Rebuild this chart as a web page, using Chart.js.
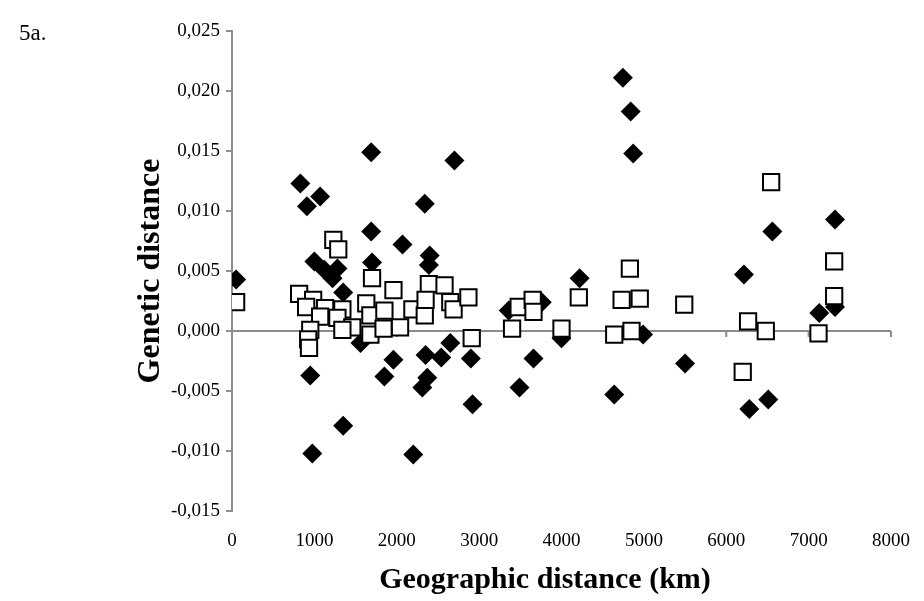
<!DOCTYPE html>
<html lang="en">
<head>
  <meta charset="UTF-8">
  <title>Genetic vs geographic distance</title>
  <script src="https://cdn.jsdelivr.net/npm/chart.js"></script>
  <style>
    body { margin: 0; background: #fff; }
    #wrap { position: relative; width: 924px; height: 601px; }
    #panel { position: absolute; left: 19px; top: 20px; font: 23px "Liberation Serif", serif; color: #000; }
    #xTitle { position: absolute; left: 345px; width: 400px; top: 560px; text-align: center;
      font: bold 30px "Liberation Serif", serif; color: #000; line-height: 36px; }
  </style>
</head>
<body>
  <div id="wrap">
    <div id="panel">5a.</div>
    <canvas id="distChart" width="924" height="601"></canvas>
    <div id="xTitle">Geographic distance (km)</div>
  </div>

  <script>
    // filled diamonds
    const diamondX = [50, 830, 910, 1070, 1000, 1120, 1280, 1220, 1350, 1690, 1690, 1700, 2070, 2340, 2400, 2390, 2700,
      1560, 1960, 950, 1850, 1350, 975, 2200, 2310, 2370, 2350, 2540, 2650, 2900, 2920, 3360, 3490, 3660, 3760,
      4000, 4220, 4745, 4840, 4870, 4990, 4640, 5500, 6215, 6560, 6280, 6510, 7320, 7320, 7130];
    const diamondY = [0.0043, 0.0123, 0.0104, 0.0112, 0.0058, 0.0051, 0.0052, 0.0044, 0.0032, 0.0149, 0.0083, 0.0057, 0.0072, 0.0106, 0.0063, 0.0055, 0.0142,
      -0.0010, -0.0024, -0.0037, -0.0038, -0.0079, -0.0102, -0.0103, -0.0047, -0.0039, -0.0020, -0.0022, -0.0010, -0.0023, -0.0061, 0.0017, -0.0047, -0.0023, 0.0024,
      -0.0006, 0.0044, 0.0211, 0.0183, 0.0148, -0.0003, -0.0053, -0.0027, 0.0047, 0.0083, -0.0065, -0.0057, 0.0093, 0.0020, 0.0015];

    // open squares
    const squareX = [50, 815, 985, 900, 1130, 1230, 1290, 1340, 1630, 1680, 1700, 1070, 1280, 1460, 1340, 950, 925, 935, 1680,
      1960, 1850, 2190, 2340, 1840, 2040, 2390, 2580, 2350, 2650, 2690, 2870, 2910, 3400, 3480, 3650, 3660, 4000, 4210,
      4830, 4730, 4950, 5490, 4640, 4850, 6545, 6265, 6480, 6200, 7310, 7310, 7120];
    const squareY = [0.0024, 0.0031, 0.0026, 0.0020, 0.0019, 0.0076, 0.0068, 0.0018, 0.0023, 0.0013, 0.0044, 0.0012, 0.0011, 0.0003, 0.0001, 0.0001, -0.0007, -0.0014, -0.0003,
      0.0034, 0.0017, 0.0018, 0.0013, 0.0002, 0.0003, 0.0039, 0.0038, 0.0026, 0.0024, 0.0018, 0.0028, -0.0006, 0.0002, 0.0020, 0.0026, 0.0016, 0.0002, 0.0028,
      0.0052, 0.0026, 0.0027, 0.0022, -0.0003, 0.0000, 0.0124, 0.0008, 0.0000, -0.0034, 0.0058, 0.0029, -0.0002];

    const xTicks = [0, 1000, 2000, 3000, 4000, 5000, 6000, 7000, 8000];
    const yTicks = [-0.015, -0.010, -0.005, 0, 0.005, 0.010, 0.015, 0.020, 0.025];

    const axisGrey = '#8c8c8c';
    const serif = '"Liberation Serif", "Times New Roman", serif';

    // horizontal axis crosses at y = 0, with tick marks hanging down
    const zeroAxis = {
      id: 'zeroAxis',
      beforeDatasetsDraw(chart) {
        const { ctx, chartArea, scales } = chart;
        const y0 = scales.y.getPixelForValue(0);
        ctx.save();
        ctx.strokeStyle = axisGrey;
        ctx.lineWidth = 2;
        ctx.beginPath();
        ctx.moveTo(chartArea.left, y0);
        ctx.lineTo(chartArea.right, y0);
        xTicks.forEach(t => {
          const px = scales.x.getPixelForValue(t);
          ctx.moveTo(px, y0);
          ctx.lineTo(px, y0 + 6);
        });
        ctx.stroke();
        ctx.restore();
      }
    };

    const toPoints = (xs, ys) => xs.map((x, i) => ({ x: x, y: ys[i] }));

    new Chart(document.getElementById('distChart'), {
      type: 'scatter',
      data: {
        datasets: [
          {
            label: 'squares',
            data: toPoints(squareX, squareY),
            pointStyle: 'rect',
            pointRadius: 11.5,
            backgroundColor: '#ffffff',
            borderColor: '#000000',
            borderWidth: 2,
            order: 0
          },
          {
            label: 'diamonds',
            data: toPoints(diamondX, diamondY),
            pointStyle: 'rectRot',
            pointRadius: 10,
            backgroundColor: '#000000',
            borderWidth: 0,
            order: 1
          }
        ]
      },
      options: {
        responsive: false,
        animation: false,
        devicePixelRatio: 1,
        layout: { padding: { left: 130, top: 31, right: 33, bottom: 0 } },
        plugins: {
          legend: { display: false },
          tooltip: { enabled: false }
        },
        scales: {
          x: {
            type: 'linear',
            min: 0,
            max: 8000,
            afterBuildTicks: axis => { axis.ticks = xTicks.map(v => ({ value: v })); },
            afterFit: axis => { axis.height = 90; },
            grid: { display: false },
            border: { display: false },
            ticks: {
              color: '#000',
              padding: 11,
              font: { family: serif, size: 19 },
              callback: v => String(v)
            }
          },
          y: {
            min: -0.015,
            max: 0.025,
            afterBuildTicks: axis => { axis.ticks = yTicks.map(v => ({ value: v })); },
            afterFit: axis => { axis.width = 102; },
            grid: { drawOnChartArea: false, color: axisGrey, lineWidth: 2, tickLength: 6 },
            border: { display: true, color: axisGrey, width: 2 },
            ticks: {
              color: '#000',
              padding: 6,
              font: { family: serif, size: 19 },
              callback: v => v.toFixed(3).replace('.', ',')
            },
            title: {
              display: true,
              text: 'Genetic distance',
              color: '#000',
              padding: { top: 2, bottom: 0 },
              font: { family: serif, size: 32, weight: 'bold' }
            }
          }
        }
      },
      plugins: [zeroAxis]
    });
  </script>
</body>
</html>
